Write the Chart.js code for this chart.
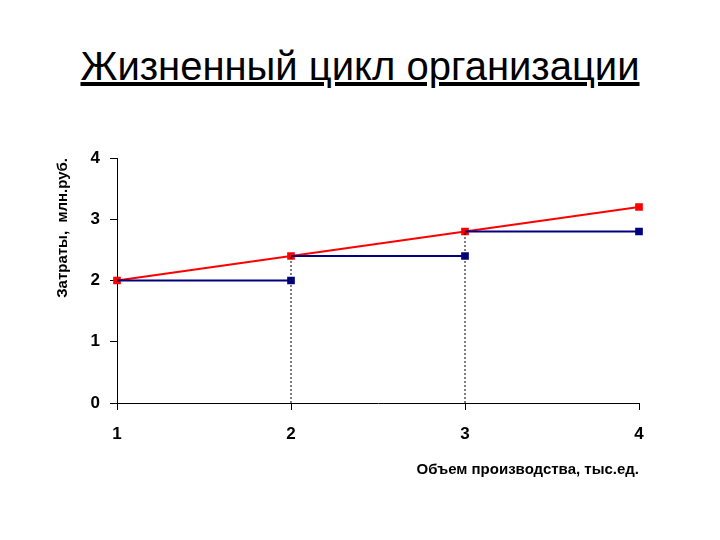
<!DOCTYPE html>
<html>
<head>
<meta charset="utf-8">
<script src="https://cdn.jsdelivr.net/npm/chart.js@4"></script>
<style>
  body { margin: 0; background: #fff; }
  #wrap { position: relative; width: 720px; height: 540px; }
  #title { position: absolute; left: 0; top: 44px; width: 720px; text-align: center;
    font-family: "Liberation Sans", Arial, sans-serif; font-size: 40px; text-decoration: underline; color: #000; }
  canvas { position: absolute; left: 0; top: 0; }
</style>
</head>
<body>
<div id="wrap">
  <div id="title">Жизненный цикл организации</div>
  <canvas id="c" width="720" height="540"></canvas>
</div>
<script>
// data
const volume = [1, 2, 3, 4];
const totalCost = [2, 2.4, 2.8, 3.2];
const stepCost = [2, 2.4, 2.8];      // level on each interval
const xTicks = ['1', '2', '3', '4'];
const yTicks = [0, 1, 2, 3, 4];

let red = volume.map((v, i) => ({ x: v, y: totalCost[i] }));

// blue steps: separate horizontal pieces
let blue = [];
let blueRadius = [];
stepCost.forEach((c, i) => {
    blue.push({ x: volume[i], y: c });
    blueRadius.push(0);
    blue.push({ x: volume[i + 1], y: c });
    blueRadius.push(4);
    blue.push({ x: volume[i + 1], y: null });
    blueRadius.push(0);
});

// dotted droplines at the jumps
let drops = [];
for (let i = 1; i < volume.length - 1; i++) {
    drops.push({ x: volume[i], y: 0 }, { x: volume[i], y: stepCost[i] }, { x: volume[i], y: null });
}

const font = { family: '"Liberation Sans", Arial, sans-serif', weight: 'bold', size: 17 };

new Chart(document.getElementById('c'), {
    type: 'scatter',
    data: {
        datasets: [
            { data: drops, showLine: true, spanGaps: false, borderColor: '#000', borderWidth: 1,
              borderDash: [2, 2], pointRadius: 0 },
            { data: blue, showLine: true, spanGaps: false, borderColor: '#000080', backgroundColor: '#000080',
              borderWidth: 2, pointStyle: 'rect', pointRadius: blueRadius, clip: false },
            { data: red, showLine: true, borderColor: '#ff0000', backgroundColor: '#ff0000',
              borderWidth: 2, pointStyle: 'rect', pointRadius: 4, clip: false }
        ]
    },
    options: {
        responsive: false,
        animation: false,
        layout: { padding: { left: 50, top: 158, right: 81, bottom: 57 } },
        plugins: { legend: { display: false }, tooltip: { enabled: false } },
        scales: {
            x: {
                type: 'linear', min: 1, max: 4,
                afterBuildTicks: s => { s.ticks = volume.map(v => ({ value: v })); },
                afterFit: s => { s.height = 80; },
                ticks: { color: '#000', font: font, padding: 14, callback: (v, i) => xTicks[i] },
                grid: { drawOnChartArea: false, drawTicks: true, tickLength: 7, color: '#000' },
                border: { color: '#000', width: 1 },
                title: { display: true, text: 'Объем производства, тыс.ед.', align: 'end', color: '#000',
                         font: { family: font.family, weight: 'bold', size: 15 }, padding: { top: 14, right: 8 } }
            },
            y: {
                min: 0, max: 4,
                afterBuildTicks: s => { s.ticks = yTicks.map(v => ({ value: v })); },
                afterFit: s => { s.width = 67; },
                ticks: { color: '#000', font: font, padding: 10 },
                grid: { drawOnChartArea: false, drawTicks: true, tickLength: 7, color: '#000' },
                border: { color: '#000', width: 1 },
                title: { display: true, text: 'Затраты,  млн.руб.', align: 'end', color: '#000',
                         font: { family: font.family, weight: 'bold', size: 15 }, padding: { bottom: 4 } }
            }
        }
    }
});
</script>
</body>
</html>
